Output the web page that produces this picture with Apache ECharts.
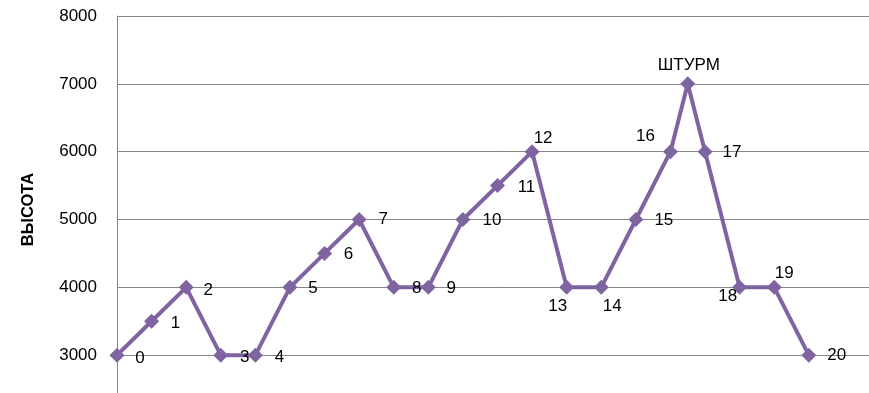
<!DOCTYPE html>
<html>
<head>
<meta charset="utf-8">
<script src="https://cdn.jsdelivr.net/npm/echarts@6/dist/echarts.min.js"></script>
<style>html,body{margin:0;padding:0;background:#fff;overflow:hidden;width:869px;height:393px;}#c{width:900px;height:430px;}</style>
</head>
<body>
<div id="c"></div>
<script>
// Data
var xValues = [0, 1, 2, 3, 4, 5, 6, 7, 8, 9, 10, 11, 12, 13, 14, 15, 16, 16.5, 17, 18, 19, 20];
var heights = [3000, 3500, 4000, 3000, 3000, 4000, 4500, 5000, 4000, 4000, 5000, 5500, 6000, 4000, 4000, 5000, 6000, 7000, 6000, 4000, 4000, 3000];
var pointNames = ['0','1','2','3','4','5','6','7','8','9','10','11','12','13','14','15','16','ШТУРМ','17','18','19','20'];
var yTicks = [3000, 4000, 5000, 6000, 7000, 8000];
var yTitle = 'ВЫСОТА';

// Label placement (style only)
var labelOffsets = [
  [23,3],[24,2],[22,3],[24,2],[24,2],[23,1],[24,1],[24,0],[23,1],[23,1],[29,1],[29,2],
  [11,-13],[-9,19],[11,19],[28,1],[-25,-15],[1,-19],[27,1],[-12,9],[10,-14],[28,0]
];

var data = xValues.map(function (x, i) {
  return {
    value: [x, heights[i]],
    name: pointNames[i],
    label: { offset: labelOffsets[i] }
  };
});

var chart = echarts.init(document.getElementById('c'));
chart.setOption({
  animation: false,
  backgroundColor: '#ffffff',
  grid: { left: 117, top: 16, right: 22, bottom: 7, containLabel: false },
  xAxis: {
    type: 'value', min: 0, max: 22,
    axisLine: { show: false }, axisTick: { show: false },
    axisLabel: { show: false }, splitLine: { show: false }
  },
  yAxis: {
    type: 'value', min: 2000, max: 8000, interval: 1000,
    name: yTitle, nameLocation: 'middle', nameGap: 80,
    nameTextStyle: { fontFamily: 'Liberation Sans', fontWeight: 'bold', fontSize: 16.5, color: '#000', padding: [0, 0, 0, 20] },
    axisLine: { show: true, lineStyle: { color: '#868686', width: 1 } },
    axisTick: { show: false },
    axisLabel: {
      fontFamily: 'Liberation Sans', fontSize: 17, color: '#000', margin: 20,
      formatter: function (v) { return yTicks.indexOf(v) >= 0 ? String(v) : ''; }
    },
    splitLine: { show: true, lineStyle: { color: '#868686', width: 1 } }
  },
  series: [{
    type: 'line',
    data: data,
    symbol: 'diamond',
    symbolSize: 15,
    clip: false,
    lineStyle: { color: '#8064A2', width: 4 },
    itemStyle: { color: '#8064A2' },
    label: {
      show: true, position: 'inside', align: 'center', verticalAlign: 'middle',
      fontFamily: 'Liberation Sans', fontSize: 17, color: '#000',
      formatter: function (p) { return p.name; }
    }
  }]
});
</script>
</body>
</html>
